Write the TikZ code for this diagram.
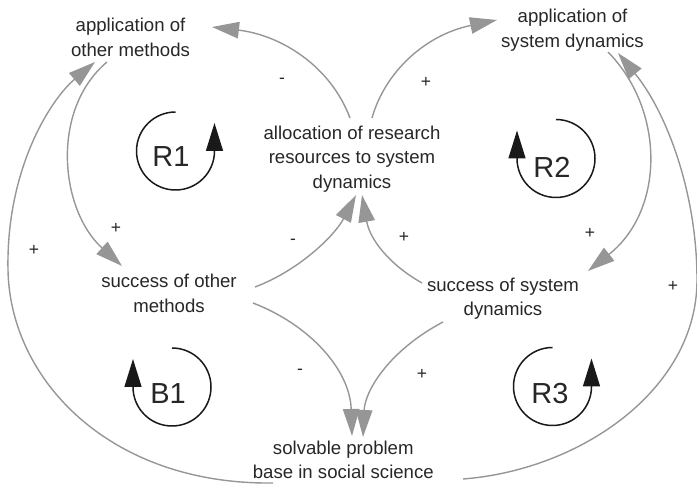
\documentclass[tikz,border=0pt]{standalone}
\usepackage{fontspec}
\setmainfont{Liberation Sans}
\usetikzlibrary{arrows.meta}
\definecolor{lnk}{RGB}{150,150,150}
\definecolor{txt}{RGB}{40,38,38}
\begin{document}
\begin{tikzpicture}[x=1pt,y=-1pt,
  var/.style={font=\fontsize{18.6}{24.5}\selectfont, align=center, inner sep=0pt, text=txt},
  pol/.style={font=\fontsize{17.5}{20}\selectfont, inner sep=0pt, text=txt},
  looplab/.style={font=\fontsize{29}{32}\selectfont, inner sep=0pt, text=txt},
  conn/.style={draw=lnk, line width=1.4pt, -{Triangle[length=27pt,width=16.5pt]}},
  fbloop/.style={draw=black!90, line width=1.5pt, -{Triangle[length=28pt,width=17pt]}}]
\useasboundingbox (0,0) rectangle (697,486);

% variables
\node[var] (aom) at (130.5,37.4) {application of\\other methods};
\node[var] (asd) at (572.5,30.3) {application of\\system dynamics};
\node[var] (alloc) at (352,158.7) {allocation of research\\resources to system\\dynamics};
\node[var] (som) at (169,293.3) {success of other\\methods};
\node[var] (ssd) at (503,298.7) {success of system\\dynamics};
\node[var] (spb) at (343.3,460) {solvable problem\\base in social science};

% connector end points
\coordinate (c1s) at (350,118);  \coordinate (c1e) at (212,27);
\coordinate (c2s) at (107,62);   \coordinate (c2e) at (122,266);
\coordinate (c3s) at (255,287);  \coordinate (c3e) at (356,195);
\coordinate (c4s) at (253,303);  \coordinate (c4e) at (352,436);
\coordinate (c5s) at (273,483);  \coordinate (c5m) at (8,270);  \coordinate (c5e) at (95,62);
\coordinate (c6s) at (372,118);  \coordinate (c6e) at (497,20);
\coordinate (c7s) at (608,52);   \coordinate (c7e) at (588,271);
\coordinate (c8s) at (422,283);  \coordinate (c8e) at (362,195);
\coordinate (c9s) at (443,322);  \coordinate (c9e) at (363,437);
\coordinate (c10s) at (463,479); \coordinate (c10m) at (697,280); \coordinate (c10e) at (618,53);

\draw[conn] (c1s) .. controls (330,65) and (280,35) .. (c1e);
\draw[conn] (c2s) .. controls (50,110) and (60,210) .. (c2e);
\draw[conn] (c3s) .. controls (300,270) and (335,235) .. (c3e);
\draw[conn] (c4s) .. controls (310,325) and (350,370) .. (c4e);
\draw[conn] (c5s) .. controls (110,485) and (10,380) .. (c5m) .. controls (6,170) and (50,100) .. (c5e);
\draw[conn] (c6s) .. controls (385,72) and (425,35) .. (c6e);
\draw[conn] (c7s) .. controls (665,110) and (665,210) .. (c7e);
\draw[conn] (c8s) .. controls (390,265) and (370,240) .. (c8e);
\draw[conn] (c9s) .. controls (390,350) and (365,390) .. (c9e);
\draw[conn] (c10s) .. controls (580,470) and (697,390) .. (c10m) .. controls (697,190) and (665,110) .. (c10e);

% polarities
\node[pol] (p1) at (282,81) {-};
\node[pol] (p2) at (116,228) {+};
\node[pol] (p3) at (293,242) {-};
\node[pol] (p4) at (300,372) {-};
\node[pol] (p5) at (34,250) {+};
\node[pol] (p6) at (426,82) {+};
\node[pol] (p7) at (590,233) {+};
\node[pol] (p8) at (404,237) {+};
\node[pol] (p9) at (422,374) {+};
\node[pol] (p10) at (673,286) {+};

% loop markers
\node[looplab] (R1) at (171,157) {R1};
\draw[fbloop] (175.5,112) arc[start angle=90,end angle=360,radius=39pt] -- ++(0,-28);
\node[looplab] (R2) at (552,167) {R2};
\draw[fbloop] (556,119.5) arc[start angle=90,end angle=-180,radius=39pt] -- ++(0,-28);
\node[looplab] (B1) at (168,394) {B1};
\draw[fbloop] (172,348) arc[start angle=90,end angle=-180,radius=39pt] -- ++(0,-28);
\node[looplab] (R3) at (550,394) {R3};
\draw[fbloop] (552.5,347.5) arc[start angle=90,end angle=360,radius=39pt] -- ++(0,-28);
\end{tikzpicture}
\end{document}
